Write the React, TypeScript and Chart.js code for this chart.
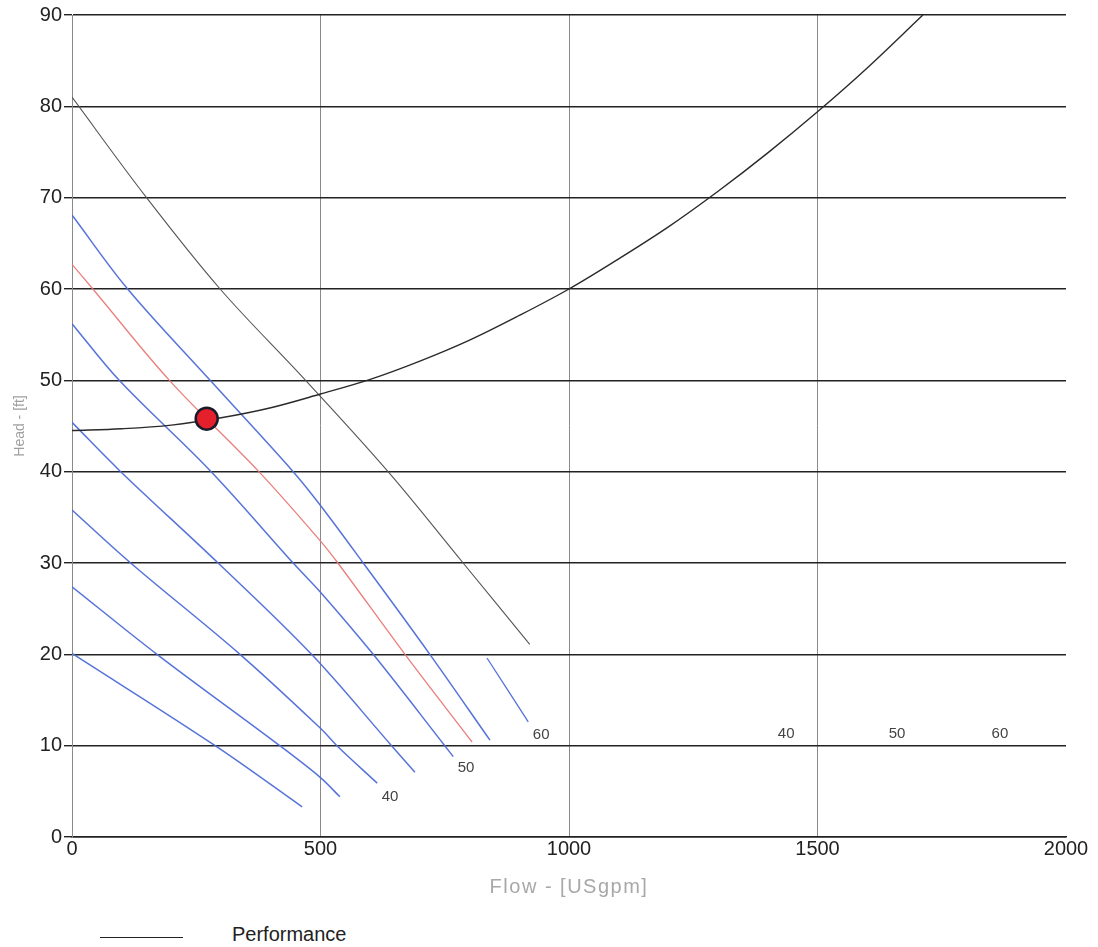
import React, { useEffect, useRef } from "react";
import { Chart, registerables } from "chart.js";

Chart.register(...registerables);

// ---- data (Flow in USgpm, Head in ft) ----
const xTicks = [0, 500, 1000, 1500, 2000];
const yTicks = [0, 10, 20, 30, 40, 50, 60, 70, 80, 90];

const systemFlow = [0, 100, 200, 300, 400, 500, 600, 700, 800, 900, 1000, 1100, 1200, 1300, 1400, 1500, 1600, 1712];
const systemHead = [44.5, 44.7, 45.1, 45.9, 47, 48.5, 50.1, 52.1, 54.4, 57.1, 60, 63.3, 66.8, 70.7, 74.9, 79.4, 84.2, 90];

const pumpMaxFlow = [0, 150, 298, 470, 636, 787, 921];
const pumpMaxHead = [81, 70, 60, 50, 40, 30, 21.1];

const blue1Flow = [0, 112, 278, 445, 500, 586, 720, 841];
const blue1Head = [68.1, 60, 50, 40, 36.3, 30, 20, 10.6];

const redFlow = [0, 42, 196, 376, 500, 535, 670, 805];
const redHead = [62.7, 60, 50, 40, 32.4, 30, 20, 10.4];

const blue3Flow = [0, 95, 280, 445, 500, 606, 750, 767];
const blue3Head = [56.2, 50, 40, 30, 26.8, 20, 10, 8.8];

const blue4Flow = [0, 98, 294, 482, 643, 690];
const blue4Head = [45.4, 40, 30, 20, 10, 7.1];

const blue5Flow = [0, 118, 338, 500, 533, 614];
const blue5Head = [35.8, 30, 20, 11.9, 10, 5.9];

const blue6Flow = [0, 171, 418, 500, 539];
const blue6Head = [27.4, 20, 10, 6.5, 4.4];

const blue7Flow = [0, 288, 463];
const blue7Head = [20.1, 10, 3.3];

const blueShortFlow = [835, 918];
const blueShortHead = [19.6, 12.6];

const dutyFlow = [271];
const dutyHead = [45.8];

const curveLabelText = ["40", "50", "60", "40", "50", "60"];
const curveLabelFlow = [640, 793, 944, 1437, 1660, 1867];
const curveLabelHead = [4.4, 7.6, 11.2, 11.3, 11.3, 11.3];

const toPts = (xs: number[], ys: number[]) => xs.map((x, i) => ({ x, y: ys[i] }));

const BLUE = "rgba(78,108,215,0.95)";
const RED = "rgba(232,120,118,0.95)";
const FONT = "'Liberation Sans', Arial, sans-serif";

const labelPlugin = {
  id: "curveLabels",
  afterDatasetsDraw(chart: any) {
    const { ctx, scales } = chart;
    ctx.save();
    ctx.fillStyle = "#444";
    ctx.font = "15px " + FONT;
    ctx.textAlign = "center";
    ctx.textBaseline = "middle";
    curveLabelText.forEach((t, i) => {
      ctx.fillText(t, scales.x.getPixelForValue(curveLabelFlow[i]), scales.y.getPixelForValue(curveLabelHead[i]));
    });
    ctx.restore();
  },
};

export default function App() {
  const ref = useRef<HTMLCanvasElement>(null);
  useEffect(() => {
    if (!ref.current) return;
    const line = (data: any, color: string, width = 1.5) => ({
      type: "line" as const,
      data,
      borderColor: color,
      borderWidth: width,
      pointRadius: 0,
      fill: false,
      tension: 0.35,
    });
    const chart = new Chart(ref.current, {
      type: "line",
      data: {
        datasets: [
          {
            type: "scatter" as any,
            data: toPts(dutyFlow, dutyHead),
            pointRadius: 11,
            pointBackgroundColor: "#e3202b",
            pointBorderColor: "#1a1a2a",
            pointBorderWidth: 2.5,
            showLine: false,
          } as any,
          line(toPts(systemFlow, systemHead), "#2a2a2a", 1.4),
          line(toPts(pumpMaxFlow, pumpMaxHead), "#555", 1.1),
          line(toPts(blue1Flow, blue1Head), BLUE),
          line(toPts(redFlow, redHead), RED, 1.3),
          line(toPts(blue3Flow, blue3Head), BLUE),
          line(toPts(blue4Flow, blue4Head), BLUE),
          line(toPts(blue5Flow, blue5Head), BLUE),
          line(toPts(blue6Flow, blue6Head), BLUE),
          line(toPts(blue7Flow, blue7Head), BLUE),
          line(toPts(blueShortFlow, blueShortHead), BLUE, 1.3),
        ],
      },
      plugins: [labelPlugin],
      options: {
        animation: false,
        responsive: false,
        maintainAspectRatio: false,
        layout: { padding: { top: 15, right: 32, left: 0, bottom: 0 } },
        plugins: { legend: { display: false }, tooltip: { enabled: false } },
        scales: {
          x: {
            type: "linear",
            min: 0,
            max: 2000,
            afterBuildTicks: (s: any) => {
              s.ticks = xTicks.map((v) => ({ value: v }));
            },
            afterFit: (s: any) => {
              s.height = 63;
            },
            ticks: {
              color: "#222",
              font: { size: 20, family: FONT },
              padding: 0,
              maxRotation: 0,
              callback: (v: any) => String(v),
            },
            grid: {
              color: (c: any) => (c.tick && (c.tick.value === 0 || c.tick.value === 2000) ? "rgba(0,0,0,0)" : "#8a8a8a"),
              lineWidth: 1,
              drawTicks: false,
            },
            border: { display: true, color: "#222", width: 1.5 },
            title: { display: false },
          },
          y: {
            type: "linear",
            min: 0,
            max: 90,
            afterBuildTicks: (s: any) => {
              s.ticks = yTicks.map((v) => ({ value: v }));
            },
            afterFit: (s: any) => {
              s.width = 72;
            },
            ticks: {
              color: "#222",
              font: { size: 20, family: FONT },
              padding: 2,
              callback: (v: any) => String(v),
            },
            grid: { color: "#222", lineWidth: 1.4, tickLength: 8, drawTicks: true },
            border: { display: true, color: "#8a8a8a", width: 1 },
            title: {
              display: true,
              text: "Head - [ft]",
              color: "#a0a0a0",
              font: { size: 14, family: FONT },
              padding: { top: 12, bottom: 4 },
            },
          },
        },
      },
    });
    return () => chart.destroy();
  }, []);

  return (
    <div style={{ position: "absolute", left: 0, top: 0, width: 1098, height: 947, background: "#fff" }}>
      <canvas ref={ref} width={1098} height={900} style={{ display: "block" }} />
      <div
        style={{
          position: "absolute",
          left: 369,
          width: 400,
          top: 874,
          textAlign: "center",
          fontFamily: FONT,
          fontSize: 20,
          letterSpacing: "1.5px",
          color: "#a8a8a8",
          lineHeight: "24px",
        }}
      >
        Flow - [USgpm]
      </div>
      <div
        style={{
          position: "absolute",
          left: 100,
          top: 937,
          width: 83,
          height: 0,
          borderTop: "1.5px solid #222",
        }}
      />
      <div
        style={{
          position: "absolute",
          left: 232,
          top: 922,
          fontFamily: FONT,
          fontSize: 20,
          color: "#222",
          lineHeight: "24px",
        }}
      >
        Performance
      </div>
    </div>
  );
}
